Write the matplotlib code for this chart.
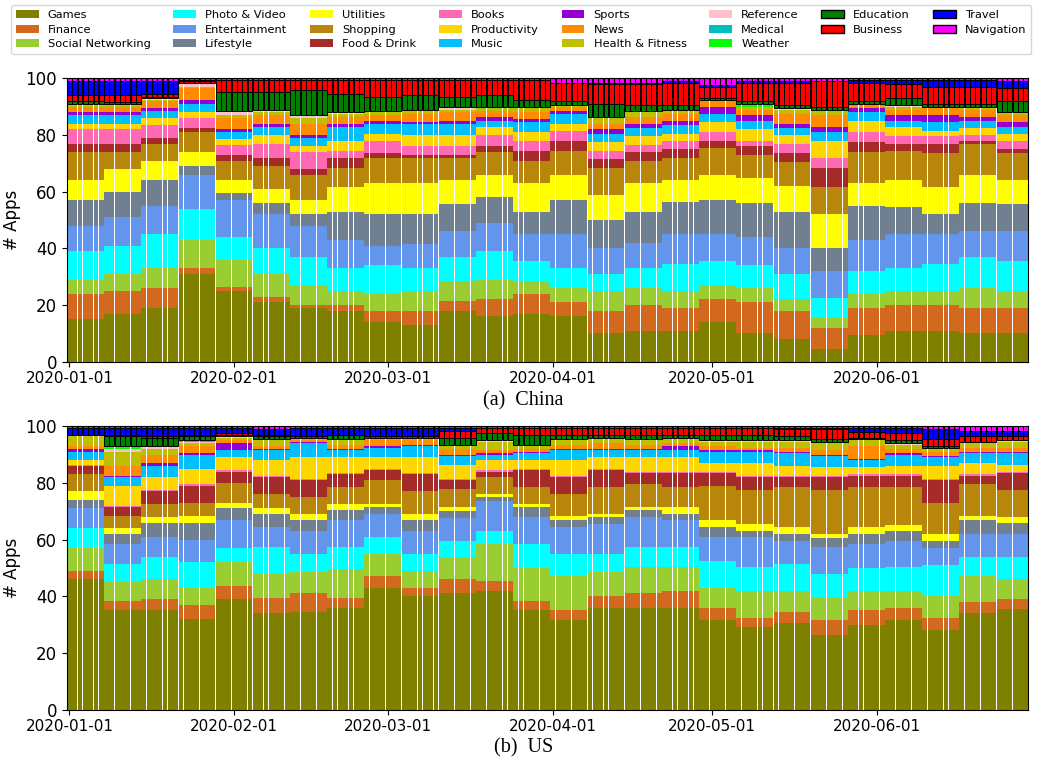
import numpy as np
import pandas as pd
import matplotlib
matplotlib.use("Agg")
import matplotlib.pyplot as plt
from matplotlib.patches import Patch

# ========== dias (um valor semanal por categoria, repetido nos 7 dias) ==========
dates = pd.date_range("2020-01-01", "2020-06-29", freq="D")

categories = ["Games", "Finance", "Social Networking", "Photo & Video", "Entertainment",
              "Lifestyle", "Utilities", "Shopping", "Food & Drink", "Books", "Productivity",
              "Music", "Sports", "News", "Health & Fitness", "Reference", "Medical",
              "Weather", "Education", "Business", "Travel", "Navigation"]
colors = ["olive", "chocolate", "yellowgreen", "cyan", "cornflowerblue", "slategray",
          "yellow", "darkgoldenrod", "brown", "hotpink", "gold", "deepskyblue",
          "darkviolet", "darkorange", "y", "pink", "c", "lime", "green", "red", "blue",
          "magenta"]
edged = ["Education", "Business", "Travel", "Navigation"]

# ---- China (weekly values, weeks starting 2020-01-01) ----
cn_games = [15, 17, 19, 31, 25, 21, 19, 18, 14, 13, 18, 16, 17, 16, 10, 11, 11, 14, 10, 8, 4.5, 9.5, 11, 11, 10, 10]
cn_finance = [9, 8, 7, 2, 1.5, 2, 1, 2, 4, 5, 3.5, 6, 7, 5, 8, 9, 8, 8, 11, 10, 7.5, 9.5, 9, 9, 9, 9]
cn_social = [5, 6, 7, 10, 9.5, 8, 7, 5, 6, 7, 7, 7, 4.5, 5, 7, 6, 6, 5, 5, 4, 3.5, 5, 5, 5, 7, 6]
cn_photo = [10, 10, 12, 11, 8, 9, 10, 8, 10, 8, 8.5, 10, 7, 7, 6, 7, 9.5, 8.5, 8, 9, 7, 8, 8, 9.5, 11, 10.5]
cn_ent = [9, 10, 10, 12, 13, 12, 11, 10, 7, 8.5, 9, 10, 9.5, 12, 9, 9, 10.5, 9.5, 10, 9, 9.5, 11, 12, 10.5, 9, 10.5]
cn_life = [9, 9, 9, 3, 2.5, 4, 4, 10, 11, 10.5, 9.5, 9, 8, 12, 10, 11, 11.5, 12, 12, 13, 8, 12, 9.5, 7, 10, 9.5]
cn_util = [7, 8, 7, 5, 4.5, 5, 5, 8.5, 11, 11, 8.5, 8, 10, 9, 9, 10, 7.5, 9, 9, 9, 12, 8, 9.5, 9.5, 10, 8.5]
cn_shop = [10, 6, 6, 7, 7, 8, 9, 7, 9, 9, 8, 8, 8, 8.5, 9.5, 8, 8, 9.5, 8, 8.5, 9.5, 11, 10.5, 12, 11, 9.5]
cn_food = [3, 3, 2, 1.5, 2, 3, 2, 3.5, 1.5, 1, 1, 2, 3.5, 3.5, 3, 3, 3, 2.5, 3, 3, 7, 3.5, 2.5, 3.5, 1, 1.5]
cn_books = [5, 5, 4.5, 3.5, 3.5, 5, 6, 2.5, 4.5, 3, 3, 4, 3.5, 3.5, 3, 2.5, 3, 3, 2, 3.5, 3.5, 3.5, 2.5, 2.5, 2, 3]
cn_prod = [2, 2, 2.5, 2, 2, 3, 2, 3.5, 2.5, 4, 4, 3, 3, 2.5, 3, 3, 2.5, 3.5, 4, 3, 6, 4, 3.5, 2, 2.5, 2.5]
cn_music = [3, 3, 2.5, 3, 2.5, 3, 3, 5, 3.5, 4, 4, 2, 3.5, 3.5, 3, 3, 3, 3, 3, 2.5, 3, 3, 2, 3, 2.5, 2.5]
cn_sports = [1, 1, 1, 1.5, 1, 1, 1, 1, 1, 0.5, 1, 1.5, 1, 1, 1.5, 1.5, 1.5, 2.5, 2, 1.5, 2, 1.5, 2, 2.5, 1.5, 1.5]
cn_news = [2, 2, 2.5, 4, 4, 3, 4, 2.5, 2, 3, 3, 2, 2.5, 1.5, 2, 2.5, 2.5, 2, 2, 3.5, 4, 1, 2, 2.5, 2.5, 2.5]
cn_health = [1, 1, 0.5, 0.5, 1, 1, 2, 1, 1, 1, 1, 1, 1.5, 0.5, 2, 1.5, 1.5, 0.5, 1, 1.5, 1.5, 0.5, 1, 0.5, 1, 1]
cn_ref = [0, 0, 0.5, 1, 1, 0.5, 1, 0.5, 0, 0.5, 1, 0.5, 0, 0, 0.5, 0.5, 0, 0, 0, 0.5, 0.5, 0, 0.5, 0, 0, 0]
cn_medical = [0, 0, 0, 0.5, 0.5, 0.5, 0, 0, 0, 0, 0, 0, 0, 0, 0, 0, 0, 0, 0, 0, 0, 0, 0, 0, 0, 0]
cn_weather = [0, 0, 0, 0, 0, 0, 0, 0, 0.5, 0, 0, 0, 0.5, 0, 0, 0, 0, 0, 1, 0, 0, 0, 0, 0, 0, 0]
cn_edu = [1, 0.5, 0.5, 0, 6.5, 6, 9, 6.5, 5, 5, 3.5, 4, 2.5, 1.5, 4.5, 2, 1.5, 0.5, 1, 1, 1, 1, 2.5, 1, 1, 4]
cn_bus = [2, 2.5, 1, 0.5, 4.5, 4.5, 3.5, 5, 6, 5.5, 6, 5.5, 7, 6.5, 7, 7.5, 8, 4, 6.5, 8, 9, 6.5, 5, 6, 6, 4.5]
cn_travel = [5, 5, 4.5, 0.5, 0, 0, 0, 0, 0, 0, 0, 0, 0, 0, 0.5, 0.5, 0.5, 0.5, 0.5, 0.5, 0, 1, 1.5, 2.5, 2.5, 2.5]
cn_nav = [1, 1, 1, 0.5, 0.5, 0.5, 0.5, 0.5, 0.5, 0.5, 0.5, 0.5, 0.5, 1.5, 1.5, 1.5, 1, 2.5, 1, 1, 1, 0.5, 0.5, 0.5, 0.5, 1]

# ---- US ----
us_games = [46, 35, 35, 32, 39, 34, 34.5, 36, 43, 40, 41, 42, 35, 31.5, 36, 36, 36, 31.5, 29, 30.5, 26.5, 30, 31.5, 28, 34, 35.5]
us_finance = [3, 3.5, 4, 5, 4.5, 5.5, 6.5, 3.5, 4, 3, 5, 3.5, 3.5, 3.5, 4, 5, 6, 4.5, 3.5, 4, 5, 5, 4.5, 4.5, 4, 3.5]
us_social = [8, 6.5, 7, 6, 8.5, 8.5, 7.5, 10, 8, 6, 8, 13, 11.5, 12, 8.5, 9.5, 8.5, 7, 9.5, 7.5, 8, 7, 6, 7.5, 9, 7]
us_photo = [7, 6.5, 8, 9, 5, 9.5, 6.5, 8, 6, 6, 5.5, 4.5, 8.5, 8, 6.5, 7, 7, 9.5, 8.5, 9.5, 8.5, 8, 8.5, 11, 7, 8]
us_ent = [7, 7, 7, 8, 10, 7, 8, 9.5, 8, 8, 8, 10.5, 9.5, 9.5, 10.5, 10.5, 9.5, 8.5, 10.5, 8, 9.5, 8.5, 9, 6, 8, 8]
us_life = [3, 3.5, 5, 6, 4, 4.5, 4, 3.5, 2.5, 4, 2.5, 1.5, 3.5, 2.5, 2.5, 2.5, 2, 3.5, 2, 2.5, 3, 3.5, 3.5, 2.5, 5, 4]
us_util = [3, 2, 2, 2.5, 2, 2, 2, 2, 1, 2, 1.5, 1, 1, 1.5, 1, 1, 2.5, 2.5, 2.5, 2.5, 1.5, 2.5, 2, 2.5, 1.5, 2]
us_shop = [6, 4.5, 4.5, 4.5, 7, 5, 6, 6, 8.5, 8, 6.5, 6, 6, 7.5, 9.5, 8, 7, 12, 12, 14, 15.5, 14, 13.5, 11, 11, 9.5]
us_food = [3, 3, 4.5, 6, 4, 6, 6, 4.5, 3.5, 6, 3, 2, 6, 6, 6, 4, 5, 4.5, 4.5, 3.5, 4.5, 4, 4, 8, 3, 6]
us_books = [0.5, 0.5, 0.5, 0.5, 0.5, 0.5, 0.5, 0.5, 0.5, 0.5, 0.5, 0.5, 0.5, 0.5, 0.5, 0.5, 0.5, 0.5, 0.5, 0.5, 0.5, 0.5, 0.5, 0.5, 0.5, 0.5]
us_prod = [1.5, 7, 4.5, 5.5, 4.5, 5.5, 7.5, 5.5, 4, 5.5, 5, 3.5, 3, 5.5, 4, 5, 5, 3, 4.5, 3.5, 3, 2.5, 3, 4.5, 4, 2.5]
us_music = [3, 3, 4, 5, 2.5, 3.5, 5, 2.5, 3.5, 4, 3, 2, 2.5, 3.5, 2.5, 2.5, 2.5, 4, 4, 4.5, 4, 2.5, 4, 3, 3.5, 4]
us_sports = [1, 0.5, 1, 0.5, 2.5, 0.5, 0.5, 0.5, 0.5, 0.5, 0.5, 0.5, 0.5, 0.5, 0.5, 0.5, 1.5, 0.5, 0.5, 0.5, 0.5, 0.5, 0.5, 0.5, 0.5, 0.5]
us_news = [1, 3.5, 3, 2.5, 1, 1, 0.5, 1.5, 2, 1.5, 2, 1, 1, 1.5, 2, 1.5, 1, 1.5, 1, 1.5, 1.5, 4.5, 1.5, 1.5, 1.5, 1.5]
us_health = [3.5, 5, 2, 1, 1, 2, 0.5, 1.5, 0.5, 0.5, 1, 3, 1, 1.5, 1.5, 1.5, 1.5, 1.5, 2, 2, 2.5, 2, 1.5, 1, 1.5, 2]
us_ref = [0.5, 1, 1, 0.5, 0.5, 0.5, 0.5, 0.5, 0.5, 0.5, 0.5, 0.5, 0.5, 0.5, 0.5, 0.5, 0.5, 0.5, 0.5, 0.5, 0.5, 0.5, 0.5, 0.5, 0.5, 0.5]
us_medical = [0, 0, 0, 0.5, 0, 0, 0, 0, 0, 0, 0, 0, 0, 0, 0, 0, 0, 0, 0, 0, 0, 0, 0, 0, 0, 0]
us_weather = [0, 1, 0, 0, 0, 0, 0, 0, 0, 0, 0, 0, 0, 0, 0, 0, 0, 0, 0, 0, 0, 0, 0, 0, 0, 0]
us_edu = [0, 3.5, 3, 1.5, 0.5, 1, 0, 1.5, 0, 0, 2.5, 2.5, 3.5, 1.5, 1, 1.5, 1, 2, 2, 1.5, 1, 0.5, 1, 0.5, 0, 0]
us_bus = [0, 0.5, 0.5, 0.5, 0.5, 0.5, 0.5, 0, 0.5, 0.5, 2.5, 2, 2.5, 2.5, 2.5, 2.5, 2.5, 2.5, 2.5, 2.5, 3.5, 2, 2.5, 2.5, 2, 1.5]
us_travel = [2.5, 2.5, 3, 2.5, 2, 2, 3, 2.5, 3, 3, 1, 0, 0, 0, 0, 0, 0, 0, 0, 0.5, 0.5, 1.5, 2, 3.5, 2, 2]
us_nav = [0.5, 0.5, 0.5, 0.5, 0.5, 1, 0.5, 0.5, 0.5, 0.5, 0.5, 0.5, 0.5, 0.5, 0.5, 0.5, 0.5, 0.5, 0.5, 0.5, 0.5, 0.5, 0.5, 1, 1.5, 1.5]

china = [cn_games, cn_finance, cn_social, cn_photo, cn_ent, cn_life, cn_util, cn_shop,
         cn_food, cn_books, cn_prod, cn_music, cn_sports, cn_news, cn_health, cn_ref,
         cn_medical, cn_weather, cn_edu, cn_bus, cn_travel, cn_nav]
us = [us_games, us_finance, us_social, us_photo, us_ent, us_life, us_util, us_shop,
      us_food, us_books, us_prod, us_music, us_sports, us_news, us_health, us_ref,
      us_medical, us_weather, us_edu, us_bus, us_travel, us_nav]
# ==============================================================================

n = len(dates)
x = np.arange(n)
month_idx = np.where(dates.day == 1)[0]
month_lbl = dates[month_idx].strftime("%Y-%m-%d")


def desenhar(ax, series):
    bottom = np.zeros(n)
    for nome, cor, semanal in zip(categories, colors, series):
        h = np.repeat(np.asarray(semanal, float), 7)[:n]
        m = h > 0
        if nome in edged:
            ax.bar(x[m], h[m], bottom=bottom[m], width=0.92, color=cor,
                   edgecolor="black", linewidth=0.7)
        else:
            ax.bar(x[m], h[m], bottom=bottom[m], width=0.92, color=cor,
                   linewidth=0, snap=True)
        bottom += h
    ax.set_xlim(-0.5, n - 0.5)
    ax.set_ylim(0, 100)
    ax.set_xticks(month_idx)
    ax.set_xticklabels(month_lbl)
    ax.set_yticks([0, 20, 40, 60, 80, 100])
    ax.tick_params(axis="x", labelsize=11)
    ax.tick_params(axis="y", labelsize=12)
    ax.set_ylabel("# Apps", fontsize=12)
    ax.yaxis.set_label_coords(-0.048, 0.5)
    for s in ax.spines.values():
        s.set_color("black")


fig = plt.figure(figsize=(10.38, 7.59), dpi=100)
ax1 = fig.add_axes([0.0643, 0.5234, 0.9264, 0.3734])
ax2 = fig.add_axes([0.0643, 0.0650, 0.9264, 0.3733])
desenhar(ax1, china)
desenhar(ax2, us)

fig.text(0.504, 1 - 401 / 759, "(a)  China", ha="center", va="center",
         fontsize=14.5, family=["Liberation Serif", "DejaVu Serif"])
fig.text(0.504, 1 - 748 / 759, "(b)  US", ha="center", va="center",
         fontsize=14.5, family=["Liberation Serif", "DejaVu Serif"])

handles = [Patch(facecolor=c, edgecolor="black" if nm in edged else c,
                 linewidth=1 if nm in edged else 0)
           for nm, c in zip(categories, colors)]
fig.legend(handles, categories, loc="upper center", bbox_to_anchor=(0.502, 0.996),
           ncol=8, fontsize=8.2, labelspacing=0.42, columnspacing=2.0,
           handlelength=2.0, handletextpad=0.8, borderaxespad=0.2)

fig.savefig("out.png", dpi=100)
